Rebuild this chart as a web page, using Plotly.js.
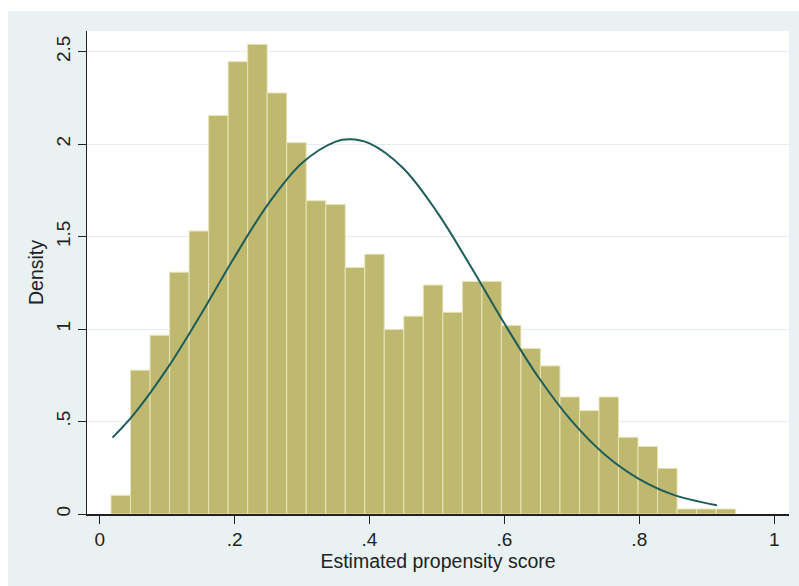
<!DOCTYPE html>
<html>
<head>
<meta charset="utf-8">
<script src="https://cdn.plot.ly/plotly-3.0.1.min.js"></script>
<style>
  html, body { margin: 0; padding: 0; background: #ffffff; width: 799px; height: 586px; overflow: hidden; }
  #chart { position: absolute; left: 8px; top: 11px; width: 791px; height: 575px; }
</style>
</head>
<body>
<div id="chart"></div>
<script>
// Histogram of estimated propensity score (density scale)
const binStart = 0.0168;
const binWidth = 0.02894;
const densities = [
  0.101, 0.778, 0.967, 1.308, 1.530, 2.155, 2.446, 2.540, 2.277, 2.008,
  1.694, 1.674, 1.333, 1.405, 0.998, 1.070, 1.238, 1.091, 1.258, 1.258,
  1.020, 0.895, 0.801, 0.633, 0.559, 0.633, 0.415, 0.365, 0.247, 0.027,
  0.027, 0.027
];

// Normal density overlay
const curveX = [0.019, 0.05, 0.10, 0.15, 0.20, 0.25, 0.30, 0.35, 0.371, 0.40,
                0.45, 0.50, 0.55, 0.60, 0.65, 0.70, 0.75, 0.80, 0.85, 0.915];
const curveY = [0.413, 0.536, 0.786, 1.079, 1.390, 1.677, 1.898, 2.014, 2.026, 2.004,
                1.870, 1.634, 1.340, 1.030, 0.742, 0.502, 0.318, 0.189, 0.105, 0.047];

const xTickVals = [0, 0.2, 0.4, 0.6, 0.8, 1];
const xTickText = ["0", ".2", ".4", ".6", ".8", "1"];
const yTickVals = [0, 0.5, 1, 1.5, 2, 2.5];
const yTickText = ["0", ".5", "1", "1.5", "2", "2.5"];

const xTitle = "Estimated propensity score";
const yTitle = "Density";

const centers = densities.map((_, i) => binStart + binWidth * (i + 0.5));

const bars = {
  type: "bar",
  x: centers,
  y: densities,
  width: densities.map(() => binWidth),
  marker: { color: "#bfb86f", line: { color: "#e8e4b8", width: 1 } },
  hoverinfo: "x+y",
  showlegend: false
};

const curve = {
  type: "scatter",
  mode: "lines",
  x: curveX,
  y: curveY,
  line: { color: "#1f5d5b", width: 2, shape: "spline", smoothing: 1 },
  showlegend: false
};

const fontFam = "Liberation Sans, Arial, sans-serif";

const layout = {
  width: 791,
  height: 575,
  paper_bgcolor: "#e9f1f3",
  plot_bgcolor: "#ffffff",
  margin: { l: 79, r: 10, t: 20, b: 72 },
  bargap: 0,
  font: { family: fontFam, color: "#222222" },
  xaxis: {
    range: [-0.0188, 1.022],
    tickvals: xTickVals,
    ticktext: xTickText,
    ticks: "outside",
    ticklen: 8,
    tickwidth: 1,
    tickcolor: "#222222",
    showline: true,
    linecolor: "#222222",
    linewidth: 1.5,
    showgrid: false,
    zeroline: false,
    tickfont: { size: 19, family: fontFam, color: "#222222" },
    title: { text: xTitle, font: { size: 19.5, family: fontFam, color: "#222222" }, standoff: 2 }
  },
  yaxis: {
    range: [0, 2.612],
    tickvals: yTickVals,
    ticktext: yTickText,
    tickangle: -90,
    ticks: "outside",
    ticklen: 8,
    tickwidth: 1,
    tickcolor: "#222222",
    showline: true,
    linecolor: "#222222",
    linewidth: 1.5,
    showgrid: true,
    gridcolor: "#e1edf0",
    gridwidth: 1,
    zeroline: false,
    tickfont: { size: 19, family: fontFam, color: "#222222" },
    title: { text: yTitle, font: { size: 19.5, family: fontFam, color: "#222222" }, standoff: 4 }
  }
};

Plotly.newPlot("chart", [bars, curve], layout, { displayModeBar: false, staticPlot: true });
</script>
</body>
</html>
